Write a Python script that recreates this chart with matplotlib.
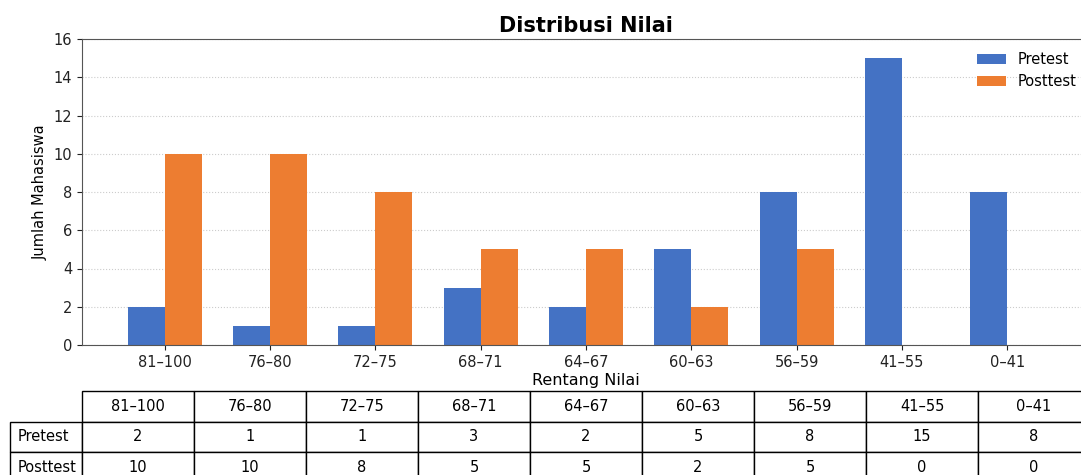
import numpy as np
import matplotlib.pyplot as plt

# data
rentang = ['81–100', '76–80', '72–75', '68–71', '64–67', '60–63', '56–59', '41–55', '0–41']
pretest = [2, 1, 1, 3, 2, 5, 8, 15, 8]
posttest = [10, 10, 8, 5, 5, 2, 5, 0, 0]

W, H = 1081, 475
fig = plt.figure(figsize=(W/100, H/100), dpi=100)
# axes runs a bit past the right edge, like the original (cropped)
ax = fig.add_axes([82/W, (H-345)/H, (1090-82)/W, 306/H])

x = np.arange(len(rentang))
w = 0.35
ax.bar(x - w/2, pretest, w, color='#4472C4', label='Pretest')
ax.bar(x + w/2, posttest, w, color='#ED7D31', label='Posttest')

ax.set_xticks(x)
ax.set_xticklabels(rentang)
ax.set_ylim(0, 16)
ax.set_yticks(range(0, 17, 2))
ax.tick_params(labelsize=10.5, colors='#222222')
ax.yaxis.grid(True, linestyle=':', color='#cccccc', linewidth=0.8)
ax.set_axisbelow(True)
for s in ax.spines.values():
    s.set_color('#555555')

ax.set_title('Distribusi Nilai', fontsize=15, fontweight='bold', pad=5)
ax.set_xlabel('Rentang Nilai', fontsize=11.5, labelpad=2)
ax.set_ylabel('Jumlah Mahasiswa', fontsize=10.5)
ax.legend(loc='upper right', frameon=False, fontsize=10.5)

# tabel di bawah grafik
lbl_w = 72/1008
tbl = ax.table(cellText=[pretest, posttest], colLabels=rentang,
               cellLoc='center', bbox=[0, -0.45, 1, 0.3])
h = tbl[0, 0].get_height()
for r, nama in zip([1, 2], ['Pretest', 'Posttest']):
    tbl.add_cell(r, -1, width=lbl_w, height=h, text=nama, loc='left')
tbl.auto_set_font_size(False)
tbl.set_fontsize(10.5)

fig.savefig('out.png', dpi=100)
